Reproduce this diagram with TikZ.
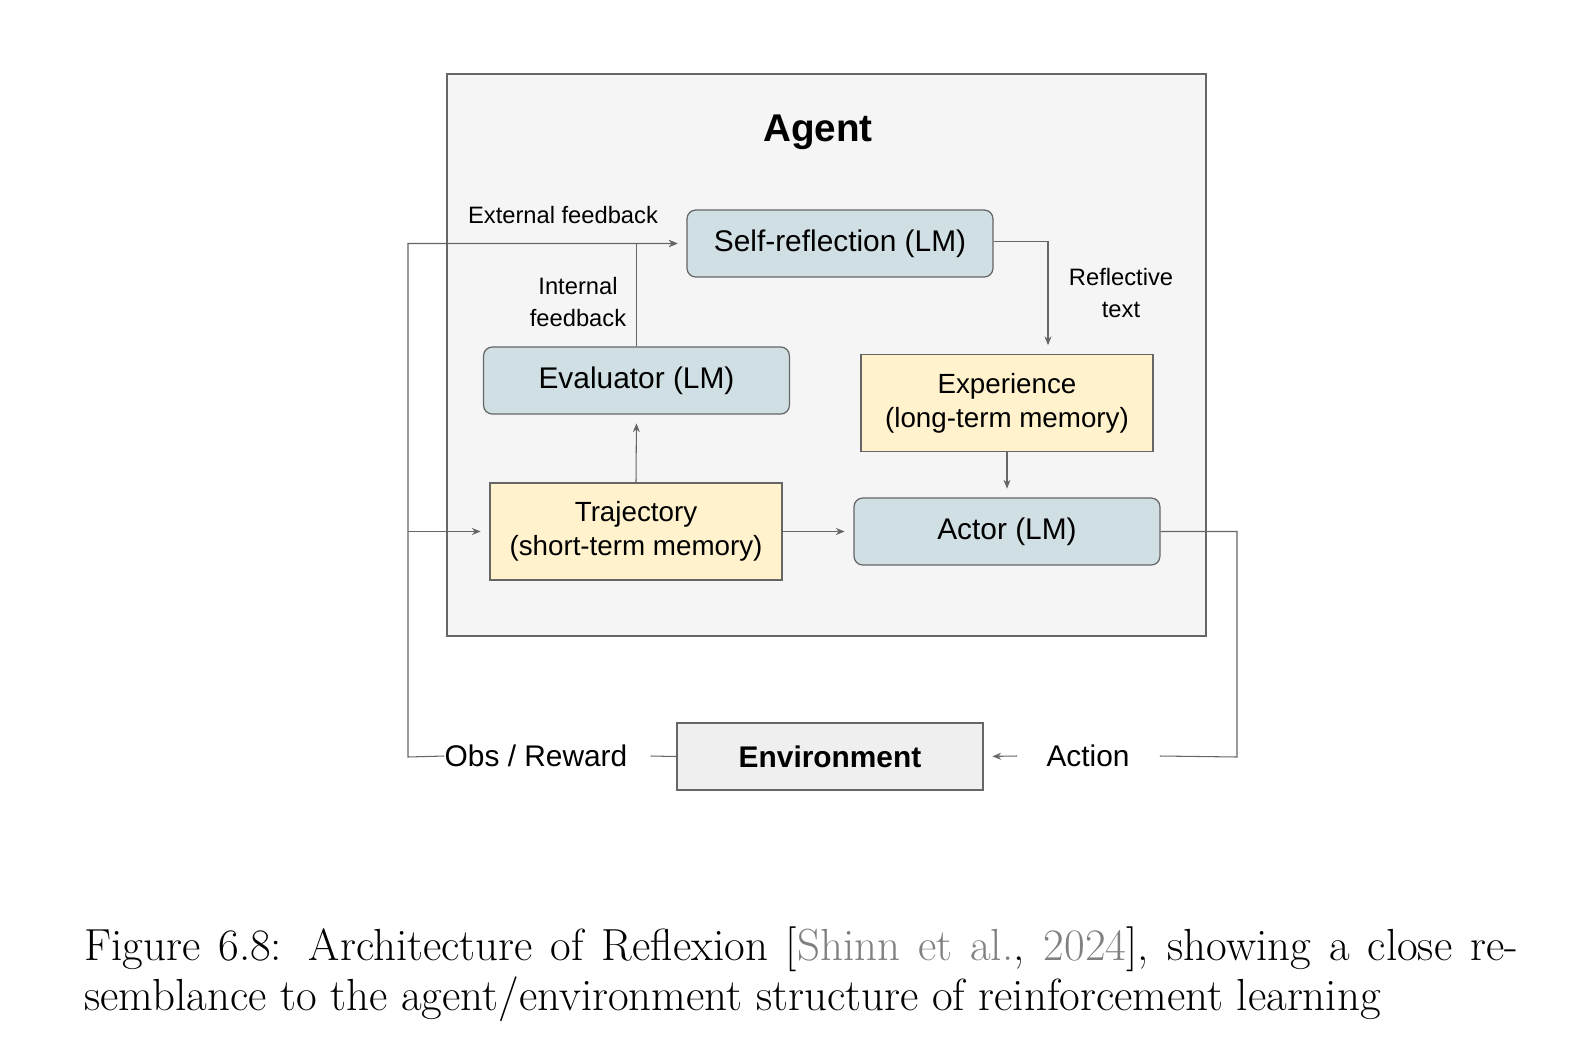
\documentclass[tikz,border=0pt]{standalone}
\usepackage{fontspec}
\newfontfamily\diagfont{Liberation Sans}
\usetikzlibrary{arrows.meta,calc}
\definecolor{lineg}{HTML}{666666}
\definecolor{lmfill}{HTML}{D0DFE3}
\definecolor{memfill}{HTML}{FFF2CC}
\definecolor{agentfill}{HTML}{F5F5F5}
\definecolor{envfill}{HTML}{EFEFEF}
\begin{document}
\begin{tikzpicture}[
  x=0.02cm, y=-0.02cm,
  lmnode/.style={rectangle, rounded corners=5pt, draw=lineg, fill=lmfill, line width=0.7pt, minimum width=6.12cm, minimum height=1.34cm, font=\diagfont\fontsize{17}{20}\selectfont},
  memnode/.style={rectangle, draw=lineg, fill=memfill, line width=0.7pt, minimum width=5.84cm, minimum height=1.94cm, align=center, font=\diagfont\fontsize{15.8}{19.5}\selectfont},
  lbl/.style={font=\diagfont\fontsize{13.5}{18}\selectfont, align=center},
  biglbl/.style={font=\diagfont\fontsize{17}{20}\selectfont, inner sep=0pt},
  flow/.style={-{Stealth[length=5pt,width=4pt]}, lineg, line width=0.6pt, shorten >=5pt},
  plain/.style={lineg, line width=0.6pt}
]
\useasboundingbox (0,0) rectangle (1570,1052);

% Agent frame
\node[draw=lineg, fill=agentfill, line width=0.8pt, minimum width=15.18cm, minimum height=11.24cm, inner sep=0pt] (agent_box) at (826.5,355) {};
\node[font=\diagfont\bfseries\fontsize{22}{26}\selectfont] (agent_title) at (818,132) {Agent};

% Components
\node[lmnode] (selfref_node) at (840,243.5) {Self-reflection (LM)};
\node[lmnode] (eval_node) at (636.5,380.5) {Evaluator (LM)};
\node[memnode] (exp_node) at (1007,403) {Experience\\(long-term memory)};
\node[memnode] (traj_node) at (636,531.5) {Trajectory\\(short-term memory)};
\node[lmnode] (actor_node) at (1007,531.5) {Actor (LM)};
\node[lmnode, rounded corners=0pt, fill=envfill, font=\diagfont\bfseries\fontsize{17}{20}\selectfont] (env_node) at (830,756.5) {Environment};

% Labels
\node[lbl] (ext_label) at (563,215) {External feedback};
\node[lbl] (int_label) at (578,302) {Internal\\feedback};
\node[lbl] (refl_label) at (1121,293) {Reflective\\text};
\node[biglbl] (obs_label) at (536,756) {Obs / Reward};
\node[biglbl] (act_label) at (1088,756) {Action};
\coordinate (fb_corner) at (408,757);
\coordinate (act_corner) at (1237,757);

% Connectors
\draw[plain] (env_node.west) -- ($(obs_label.east)+(23,0)$);
\draw[flow] (obs_label.west) -- (fb_corner) |- (selfref_node.west);
\draw[flow] (fb_corner |- traj_node.west) -- (traj_node.west);
\draw[flow] (eval_node.north) |- (selfref_node.west);
\draw[flow] (traj_node.north) -- (eval_node.south);
\draw[flow] ($(selfref_node.east)+(0,-2)$) -| ($(exp_node.north)+(41,0)$);
\draw[flow] (exp_node.south) -- (actor_node.north);
\draw[flow] (traj_node.east) -- (actor_node.west);
\draw[plain] (actor_node.east) -| (act_corner) -- ($(act_label.east)+(30,0)$);
\draw[flow] ($(act_label.west)+(-29,0)$) -- (env_node.east);

% Caption
\node[anchor=north west, inner sep=0pt, text width=28.68cm, align=justify, font=\fontsize{25.6}{28.8}\selectfont] (caption) at (84,926)
  {Figure 6.8: Architecture of Reflexion [\textcolor{gray}{Shinn et al.}, \textcolor{gray}{2024}], showing a close re-\linebreak semblance to the agent/environment structure of reinforcement learning};
\end{tikzpicture}
\end{document}
